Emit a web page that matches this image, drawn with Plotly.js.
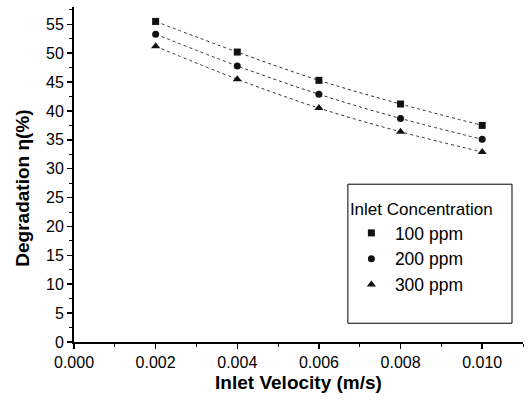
<!DOCTYPE html>
<html>
<head>
<meta charset="utf-8">
<script src="https://cdn.plot.ly/plotly-3.0.1.min.js"></script>
<style>html,body{margin:0;padding:0;background:#fff;}#chart{width:528px;height:407px;}</style>
</head>
<body>
<div id="chart"></div>
<script>
const velocity = [0.002, 0.004, 0.006, 0.008, 0.010];
const conc100 = [55.5, 50.2, 45.3, 41.2, 37.5];
const conc200 = [53.3, 47.8, 42.9, 38.7, 35.1];
const conc300 = [51.2, 45.5, 40.5, 36.4, 32.9];
const seriesNames = ['100 ppm', '200 ppm', '300 ppm'];
const symbols = ['square', 'circle', 'triangle-up'];
const xTickVals = [0, 0.002, 0.004, 0.006, 0.008, 0.010];
const xTickText = ['0.000', '0.002', '0.004', '0.006', '0.008', '0.010'];
const yTickVals = [0, 5, 10, 15, 20, 25, 30, 35, 40, 45, 50, 55];

const FONT = 'Liberation Sans, Arial, Helvetica, sans-serif';
const series = [conc100, conc200, conc300];
const lineTraces = series.map((ys, i) => ({
  x: velocity, y: ys, type: 'scatter', mode: 'lines', showlegend: false, hoverinfo: 'skip',
  line: {color: '#333', width: 1, dash: 'dot', shape: 'spline'}
}));
const markerTraces = series.map((ys, i) => ({
  x: velocity, y: ys, name: seriesNames[i], type: 'scatter', mode: 'markers',
  marker: {symbol: symbols[i], size: i === 2 ? 8 : 7, color: '#111'}
}));

const layout = {
  width: 528, height: 407,
  margin: {l: 74, r: 5, t: 7, b: 65},
  paper_bgcolor: '#fff', plot_bgcolor: '#fff',
  font: {family: FONT, color: '#000'},
  showlegend: true,
  legend: {
    x: 0.610, y: 0.445, xanchor: 'left', yanchor: 'top',
    bgcolor: 'rgba(0,0,0,0)', borderwidth: 0, itemwidth: 37,
    font: {size: 17.5, family: FONT},
    title: {text: 'Inlet Concentration', font: {size: 17, family: FONT}},
    tracegroupgap: 0
  },
  xaxis: {
    range: [0, 0.011], tickvals: xTickVals, ticktext: xTickText,
    ticks: 'outside', ticklen: 5, tickwidth: 1.5, tickcolor: '#000',
    minor: {dtick: 0.001, tick0: 0, ticks: 'outside', ticklen: 3, tickwidth: 1, tickcolor: '#000'},
    showline: true, linecolor: '#000', linewidth: 2, showgrid: false, zeroline: false,
    tickfont: {size: 16, family: FONT},
    title: {text: '<b>Inlet Velocity (m/s)</b>', font: {size: 19, family: FONT}, standoff: 5}
  },
  yaxis: {
    range: [0, 58], tickvals: yTickVals,
    ticks: 'outside', ticklen: 5, tickwidth: 1.5, tickcolor: '#000',
    minor: {dtick: 2.5, tick0: 0, ticks: 'outside', ticklen: 3, tickwidth: 1, tickcolor: '#000'},
    showline: true, linecolor: '#000', linewidth: 2, showgrid: false, zeroline: false,
    tickfont: {size: 16, family: FONT}
  },
  annotations: [{
    text: '<b>Degradation η(%)</b>', xref: 'paper', yref: 'paper',
    x: -0.114, y: 0.46, xanchor: 'center', yanchor: 'middle', textangle: -90,
    showarrow: false, font: {size: 19, family: FONT}
  }],
  shapes: [{
    type: 'rect', xref: 'paper', yref: 'paper',
    x0: 0.610, x1: 0.9755, y0: 0.056, y1: 0.471,
    line: {color: '#000', width: 1}, fillcolor: 'rgba(0,0,0,0)'
  }]
};

Plotly.newPlot('chart', lineTraces.concat(markerTraces), layout, {displayModeBar: false, staticPlot: true});
</script>
</body>
</html>
